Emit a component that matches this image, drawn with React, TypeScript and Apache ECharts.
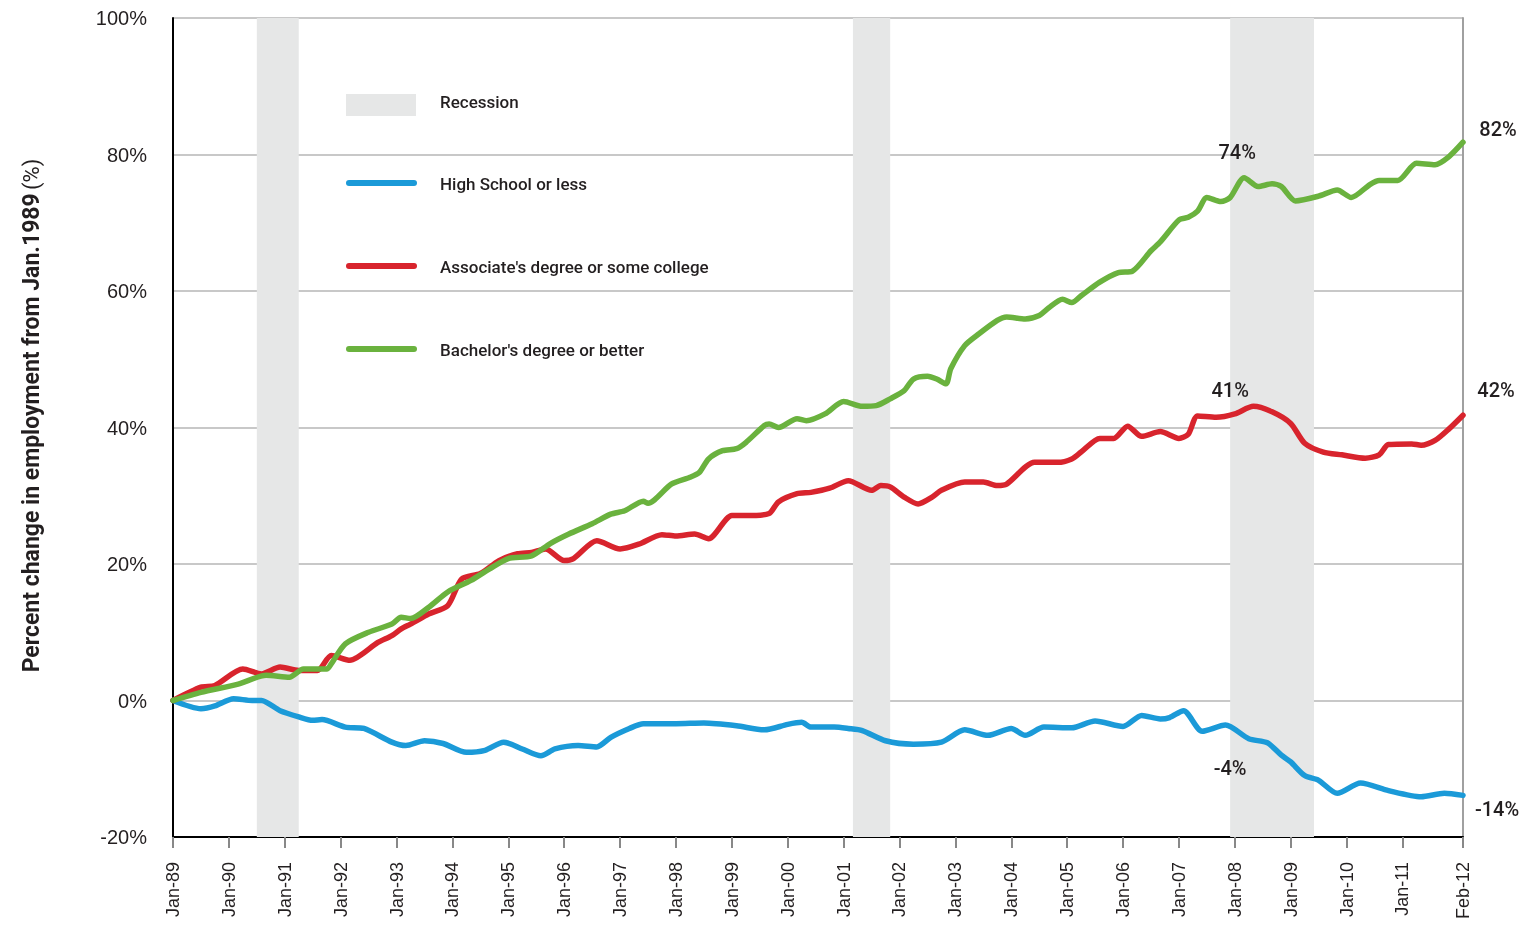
import React, { useEffect, useRef } from "react";
import * as echarts from "echarts";

// Month categories Jan-89 .. Feb-12
const monthNames = ["Jan", "Feb", "Mar", "Apr", "May", "Jun", "Jul", "Aug", "Sep", "Oct", "Nov", "Dec"];
const categories: string[] = [];
for (let y = 1989; y <= 2012; y++) {
  for (let m = 0; m < 12; m++) {
    if (y === 2012 && m > 1) break;
    categories.push(monthNames[m] + "-" + String(y % 100).padStart(2, "0"));
  }
}

// High School or less (month index, % change)
const hsMonths = [0, 6, 9, 13, 17, 19, 23, 27, 30, 32, 37, 41, 47, 50, 54, 58, 63, 67, 71, 75, 79, 82, 87, 91, 94, 98, 101, 108, 114, 121, 127, 132, 135, 137, 142, 145, 148, 153, 159, 165, 170, 175, 180, 183, 187, 193, 198, 204, 208, 212, 214, 217, 221, 226, 231, 235, 238, 240, 243, 246, 250, 255, 261, 268, 273, 277];
const hsValues = [0, -1.2, -0.8, 0.25, 0, 0, -1.5, -2.4, -2.9, -2.8, -3.9, -4.1, -6.1, -6.6, -5.9, -6.3, -7.6, -7.3, -6.1, -7.1, -8.1, -7.1, -6.6, -6.8, -5.4, -4.1, -3.4, -3.4, -3.3, -3.7, -4.3, -3.5, -3.2, -3.9, -3.9, -4.1, -4.4, -5.9, -6.4, -6.1, -4.3, -5.1, -4.1, -5.1, -3.9, -4.0, -3.0, -3.8, -2.2, -2.7, -2.5, -1.5, -4.5, -3.6, -5.6, -6.2, -8.0, -9.0, -11.0, -11.7, -13.6, -12.1, -13.2, -14.1, -13.6, -13.9];

// Associate's degree or some college
const acMonths = [0, 6, 9, 15, 19, 23, 27, 31, 34, 38, 44, 47, 49, 51, 55, 59, 62, 66, 70, 74, 77, 80, 84, 86, 91, 96, 100, 105, 108, 112, 115, 120, 123, 128, 130, 134, 137, 141, 145, 150, 152, 154, 157, 160, 163, 165, 170, 174, 177, 179, 185, 190, 193, 195, 199, 202, 205, 208, 212, 216, 218, 220, 224, 228, 232, 236, 240, 243, 247, 251, 256, 259, 261, 266, 268, 271, 274, 277];
const acValues = [0, 1.95, 2.2, 4.6, 3.9, 4.9, 4.4, 4.4, 6.6, 5.9, 8.5, 9.5, 10.5, 11.2, 12.7, 13.9, 17.8, 18.6, 20.5, 21.5, 21.7, 22.2, 20.5, 20.8, 23.4, 22.2, 22.9, 24.3, 24.1, 24.4, 23.7, 27.1, 27.1, 27.4, 29.1, 30.3, 30.5, 31.1, 32.2, 30.8, 31.5, 31.3, 29.8, 28.8, 29.8, 30.8, 32, 32, 31.5, 31.7, 34.9, 34.9, 35.4, 36.4, 38.4, 38.4, 40.2, 38.7, 39.4, 38.4, 39, 41.7, 41.5, 42, 43.1, 42.3, 40.6, 37.7, 36.4, 36, 35.5, 36, 37.5, 37.6, 37.4, 38.1, 39.8, 41.8];

// Bachelor's degree or better
const baMonths = [0, 6, 14, 20, 25, 28, 33, 34, 37, 42, 47, 49, 51, 55, 59, 64, 68, 72, 77, 81, 85, 90, 94, 97, 101, 102, 107, 111, 113, 115, 118, 121, 123, 127, 128, 130, 134, 136, 140, 144, 148, 151, 154, 157, 159, 162, 164, 166, 167, 170, 173, 177, 179, 183, 186, 188, 191, 193, 195, 199, 203, 206, 210, 212, 216, 218, 220, 222, 225, 227, 230, 233, 236, 238, 241, 246, 250, 253, 257, 259, 263, 267, 271, 274, 277];
const baValues = [0, 1.2, 2.4, 3.7, 3.4, 4.6, 4.6, 5.4, 8.3, 10, 11.2, 12.2, 12, 13.7, 15.9, 17.6, 19.3, 20.8, 21.2, 23, 24.4, 25.9, 27.3, 27.8, 29.2, 28.9, 31.7, 32.7, 33.4, 35.4, 36.6, 36.9, 37.8, 40.3, 40.5, 40, 41.3, 41, 42, 43.8, 43.1, 43.2, 44.2, 45.4, 47.1, 47.5, 47.1, 46.4, 48.6, 52, 53.7, 55.7, 56.2, 55.9, 56.4, 57.5, 58.8, 58.3, 59.3, 61.3, 62.7, 62.9, 65.9, 67.2, 70.4, 70.8, 71.7, 73.7, 73.1, 73.7, 76.6, 75.3, 75.7, 75.3, 73.2, 73.9, 74.8, 73.7, 75.6, 76.2, 76.2, 78.7, 78.5, 79.7, 81.8];

const recessions = [["Jul-90", "Apr-91"], ["Mar-01", "Nov-01"], ["Dec-07", "Jun-09"]];

const seriesNames = ["Recession", "High School or less", "Associate's degree or some college", "Bachelor's degree or better"];
const colors = { recession: "#e6e7e7", hs: "#1b9ad8", ac: "#d8242d", ba: "#6ab23e" };

const COND = "Roboto, 'Liberation Sans', sans-serif";
const ARIAL = "'Liberation Sans', Arial, sans-serif";
const TEXT = "#231f20";

function pairs(ms: number[], vs: number[]) {
  return ms.map((m, i) => [m, vs[i]]);
}

function labelPoint(idx: number, value: number, text: string, offset: number[]) {
  return {
    coord: [idx, value],
    symbolSize: 0,
    label: {
      show: true,
      formatter: text,
      offset,
      fontFamily: COND,
      fontWeight: 500,
      fontSize: 20,
      color: TEXT,
    },
  };
}

export default function App() {
  const ref = useRef<HTMLDivElement>(null);
  useEffect(() => {
    if (!ref.current) return;
    const chart = echarts.init(ref.current, null, { renderer: "svg" });
    const lastIdx = categories.length - 1;
    const showIdx = (i: number) => (i % 12 === 0 && i < lastIdx - 1) || i === lastIdx;
    const lineSeries = (name: string, color: string, data: number[][], marks: any[]) => ({
      name,
      type: "line",
      data,
      symbol: "none",
      smooth: 0.25,
      lineStyle: { color, width: 5.5, cap: "round", join: "round" },
      itemStyle: { color },
      z: 3,
      markPoint: { symbol: "circle", symbolSize: 0, data: marks, z: 5 },
    });
    const legendX = 346;
    const legendTextX = 440;
    const legendRows = [102, 184, 267, 350];
    const legendColors = [colors.hs, colors.ac, colors.ba];
    const graphics: any[] = [
      {
        type: "rect",
        shape: { x: legendX, y: 94, width: 70, height: 22 },
        style: { fill: colors.recession },
      },
    ];
    legendColors.forEach((c, i) => {
      graphics.push({
        type: "line",
        shape: { x1: legendX + 3, y1: legendRows[i + 1] - 1, x2: legendX + 68, y2: legendRows[i + 1] - 1 },
        style: { stroke: c, lineWidth: 6, lineCap: "round" },
      });
    });
    seriesNames.forEach((n, i) => {
      graphics.push({
        type: "text",
        x: legendTextX,
        y: legendRows[i],
        style: {
          text: n,
          fill: TEXT,
          font: "500 17px " + COND,
          verticalAlign: "middle",
          align: "left",
        },
      });
    });
    chart.setOption({
      animation: false,
      grid: { left: 173, right: 67, top: 18, bottom: 89, containLabel: false },
      graphic: graphics,
      xAxis: {
        type: "category",
        data: categories,
        boundaryGap: false,
        axisLine: { show: true, onZero: false, lineStyle: { color: "#000", width: 2 } },
        axisTick: { show: true, interval: (i: number) => showIdx(i), length: 11, lineStyle: { color: "#888", width: 2 } },
        axisLabel: {
          interval: (i: number) => showIdx(i),
          rotate: 90,
          margin: 25,
          fontFamily: ARIAL,
          fontSize: 18,
          color: TEXT,
        },
        splitLine: { show: false },
      },
      yAxis: [
        {
          type: "value",
          min: -20,
          max: 100,
          interval: 20,
          name: "{a|Percent change in employment from Jan.1989} {b|(%)}",
          nameLocation: "middle",
          nameRotate: 90,
          nameGap: 130,
          nameTextStyle: {
            padding: [0, 0, 0, 24],
            rich: {
              a: { fontFamily: COND, fontSize: 23, fontWeight: "bold", color: TEXT },
              b: { fontFamily: COND, fontSize: 22, color: TEXT },
            },
          },
          axisLine: { show: true, lineStyle: { color: "#000", width: 2 } },
          axisTick: { show: false },
          axisLabel: {
            formatter: "{value}%",
            margin: 26,
            fontFamily: ARIAL,
            fontSize: 20,
            color: TEXT,
          },
          splitLine: { show: true, lineStyle: { color: "#c8c8c8", width: 2 } },
        },
        {
          type: "value",
          min: -20,
          max: 100,
          interval: 20,
          position: "right",
          axisLine: { show: true, lineStyle: { color: "#a0a0a0", width: 2 } },
          axisTick: { show: false },
          axisLabel: { show: false },
          splitLine: { show: false },
        },
      ],
      series: [
        {
          name: seriesNames[0],
          type: "line",
          data: [],
          itemStyle: { color: colors.recession },
          z: 1,
          markArea: {
            silent: true,
            itemStyle: { color: colors.recession, opacity: 1 },
            data: recessions.map(([a, b]) => [{ xAxis: a }, { xAxis: b }]),
          },
        },
        lineSeries(seriesNames[1], colors.hs, pairs(hsMonths, hsValues), [
          labelPoint(227, -4, "-4%", [0, 40]),
          labelPoint(lastIdx, -14, "-14%", [34, 13]),
        ]),
        lineSeries(seriesNames[2], colors.ac, pairs(acMonths, acValues), [
          labelPoint(227, 41, "41%", [0, -31]),
          labelPoint(lastIdx, 42, "42%", [33, -24]),
        ]),
        lineSeries(seriesNames[3], colors.ba, pairs(baMonths, baValues), [
          labelPoint(227, 74, "74%", [7, -43]),
          labelPoint(lastIdx, 82, "82%", [35, -12]),
        ]),
      ],
    });
    return () => chart.dispose();
  }, []);
  return <div ref={ref} style={{ position: "fixed", left: 0, top: 0, width: 1530, height: 926 }} />;
}
